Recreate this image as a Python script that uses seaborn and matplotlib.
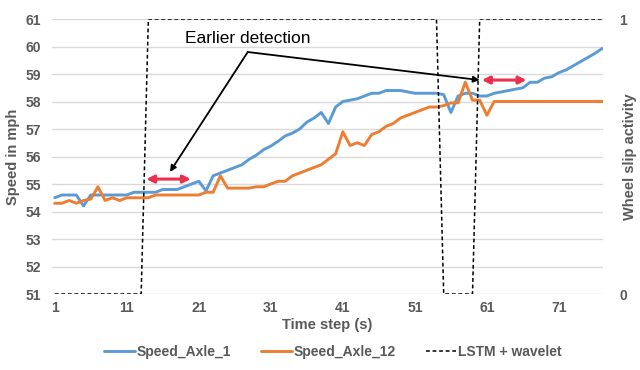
import numpy as np
import pandas as pd
import matplotlib
matplotlib.use("Agg")
import matplotlib.pyplot as plt
import seaborn as sns

# data
time_steps = list(range(1, 78))

speed_axle_1 = [
    54.5, 54.6, 54.6, 54.6, 54.2, 54.6, 54.6, 54.6, 54.6, 54.6,
    54.6, 54.7, 54.7, 54.7, 54.7, 54.8, 54.8, 54.8, 54.9, 55.0,
    55.1, 54.75, 55.3, 55.4, 55.5, 55.6, 55.7, 55.9, 56.05, 56.25,
    56.38, 56.55, 56.75, 56.85, 57.0, 57.25, 57.4, 57.6, 57.2, 57.8,
    58.0, 58.05, 58.1, 58.2, 58.3, 58.3, 58.4, 58.4, 58.4, 58.35,
    58.3, 58.3, 58.3, 58.3, 58.25, 57.6, 58.2, 58.3, 58.3, 58.2,
    58.2, 58.3, 58.35, 58.4, 58.45, 58.5, 58.7, 58.7, 58.85, 58.9,
    59.05, 59.15, 59.3, 59.45, 59.6, 59.75, 59.93,
]

speed_axle_12 = [
    54.3, 54.3, 54.4, 54.3, 54.4, 54.45, 54.9, 54.4, 54.5, 54.4,
    54.5, 54.5, 54.5, 54.5, 54.6, 54.6, 54.6, 54.6, 54.6, 54.6,
    54.6, 54.7, 54.7, 55.3, 54.85, 54.85, 54.85, 54.85, 54.9, 54.9,
    55.0, 55.1, 55.1, 55.3, 55.4, 55.5, 55.6, 55.7, 55.9, 56.1,
    56.9, 56.4, 56.5, 56.4, 56.8, 56.9, 57.1, 57.2, 57.4, 57.5,
    57.6, 57.7, 57.8, 57.8, 57.85, 57.95, 57.95, 58.7, 58.05, 58.05,
    57.5, 58.0, 58.0, 58.0, 58.0, 58.0, 58.0, 58.0, 58.0, 58.0,
    58.0, 58.0, 58.0, 58.0, 58.0, 58.0, 58.0,
]

# wheel slip activity detected by LSTM + wavelet (0/1)
lstm_wavelet = [0] * 13 + [1] * 41 + [0] * 5 + [1] * 18

x_ticks = [1, 11, 21, 31, 41, 51, 61, 71]
y_ticks = list(range(51, 62))

# annotation points (time step, speed)
arrow_vertex = (27.8, 59.8)
early_tip = (17.0, 55.44)
late_tip = (60.0, 58.78)
red_left = ((13.7, 55.18), (19.9, 55.18))
red_right = ((60.3, 58.78), (66.5, 58.78))

blue = "#5B9BD5"
orange = "#ED7D31"
grey = "#595959"
red = "#EC2F4E"


def main():
    sns.set_style("white")
    plt.rcParams["font.family"] = ["Liberation Sans", "DejaVu Sans"]

    df = pd.DataFrame({
        "step": time_steps,
        "Speed_Axle_1": speed_axle_1,
        "Speed_Axle_12": speed_axle_12,
        "LSTM + wavelet": lstm_wavelet,
    })

    fig = plt.figure(figsize=(6.4, 3.7), dpi=100)
    ax = fig.add_axes([0.081, 0.2054, 0.861, 0.7432])

    sns.lineplot(data=df, x="step", y="Speed_Axle_1", ax=ax, color=blue,
                 linewidth=2.1, label="Speed_Axle_1", legend=False)
    sns.lineplot(data=df, x="step", y="Speed_Axle_12", ax=ax, color=orange,
                 linewidth=2.1, label="Speed_Axle_12", legend=False)

    ax.set_xlim(0.6, 77.1)
    ax.set_ylim(51, 61)
    ax.set_yticks(y_ticks)
    ax.set_xticks(x_ticks)
    ax.grid(axis="y", color="#D9D9D9", linewidth=1.0)
    ax.grid(axis="x", visible=False)
    for s in ax.spines.values():
        s.set_visible(False)
    ax.tick_params(axis="y", length=0, labelsize=10, labelcolor=grey, pad=8)
    ax.tick_params(axis="x", length=0, labelsize=10, labelcolor=grey, pad=5)
    for lab in ax.get_xticklabels() + ax.get_yticklabels():
        lab.set_fontweight("bold")
    ax.set_xlabel("Time step (s)", fontsize=10.5, fontweight="bold", color=grey, labelpad=2)
    ax.set_ylabel("Speed in mph", fontsize=10.5, fontweight="bold", color=grey, labelpad=4)

    ax2 = ax.twinx()
    sns.lineplot(data=df, x="step", y="LSTM + wavelet", ax=ax2, color="black",
                 linewidth=1.1, linestyle=(0, (2.5, 1.8)), label="LSTM + wavelet", legend=False)
    ax2.set_ylim(0, 1)
    ax2.set_yticks([0, 1])
    ax2.set_xlim(0.6, 77.1)
    for s in ax2.spines.values():
        s.set_visible(False)
    ax2.tick_params(axis="y", length=0, labelsize=10, labelcolor=grey, pad=12)
    for lab in ax2.get_yticklabels():
        lab.set_fontweight("bold")
    ax2.set_ylabel("Wheel slip activity", fontsize=10.5, fontweight="bold", color=grey)
    ax2.yaxis.set_label_coords(1.036, 0.5)

    # "Earlier detection" callout
    ax.text(27.8, 60.3, "Earlier detection", fontsize=12.5, ha="center", va="center",
            color="black", zorder=6)
    to_ax2 = lambda p: ax2.transData.inverted().transform(ax.transData.transform(p))
    for tip in (early_tip, late_tip):
        ax2.annotate("", xy=to_ax2(tip), xytext=to_ax2(arrow_vertex),
                     arrowprops=dict(arrowstyle="-|>", color="black", lw=1.3,
                                     mutation_scale=9, shrinkA=0, shrinkB=0))
    for a, b in (red_left, red_right):
        ax2.annotate("", xy=to_ax2(b), xytext=to_ax2(a),
                     arrowprops=dict(arrowstyle="<|-|>", color=red, lw=2.2,
                                     mutation_scale=11, shrinkA=0, shrinkB=0))

    handles = ax.get_lines()[:2] + ax2.get_lines()[:1]
    labels = ["Speed_Axle_1", "Speed_Axle_12", "LSTM + wavelet"]
    leg = fig.legend(handles, labels, loc="center", bbox_to_anchor=(0.52, 0.048), ncol=3,
                     frameon=False, fontsize=10, handlelength=2.2, handletextpad=0.1,
                     columnspacing=2.2)
    for t in leg.get_texts():
        t.set_color(grey)
        t.set_fontweight("bold")

    fig.savefig("out.png", dpi=100)


if __name__ == "__main__":
    main()
